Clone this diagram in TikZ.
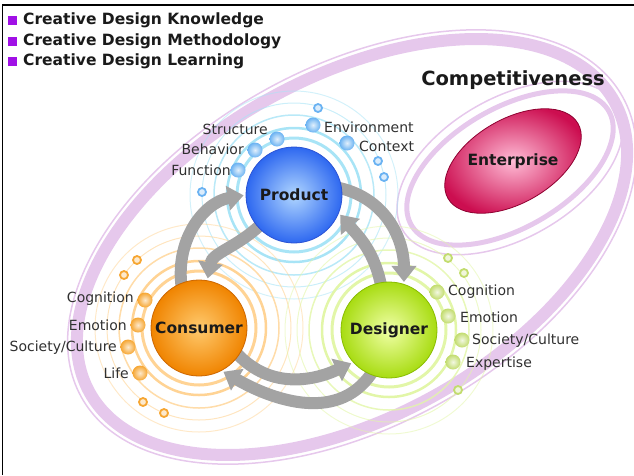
\documentclass[tikz,border=0pt]{standalone}
\usepackage{fontspec}
\setmainfont{DejaVu Sans}
\usetikzlibrary{arrows.meta,shapes.geometric,backgrounds}
\definecolor{CDInk}{HTML}{1A1A1A}
\definecolor{CDText}{HTML}{303030}
\definecolor{CDPurple}{HTML}{A010E6}
\definecolor{CDBand}{HTML}{E6C8EC}
\definecolor{CDGray}{HTML}{A3A3A3}
\definecolor{CDBlue}{HTML}{2E68F0}
\definecolor{CDBlueLt}{HTML}{B0D6FF}
\definecolor{CDBlueDk}{HTML}{2A52D4}
\definecolor{CDBlueDot}{HTML}{6AB2F2}
\definecolor{CDBlueRing}{HTML}{A8E4F6}
\definecolor{CDOrange}{HTML}{F08400}
\definecolor{CDOrangeLt}{HTML}{FFCA6E}
\definecolor{CDOrangeDk}{HTML}{CC6600}
\definecolor{CDOrangeDot}{HTML}{F6A632}
\definecolor{CDOrangeRing}{HTML}{FFD394}
\definecolor{CDGreen}{HTML}{A8DC12}
\definecolor{CDGreenLt}{HTML}{F0FFA6}
\definecolor{CDGreenDk}{HTML}{88BC00}
\definecolor{CDGreenDot}{HTML}{C2DC6E}
\definecolor{CDGreenRing}{HTML}{E2F6A8}
\definecolor{CDRose}{HTML}{CC0E50}
\definecolor{CDRoseLt}{HTML}{FFBCD6}
\definecolor{CDRoseDk}{HTML}{8E0030}
\tikzset{
  flow/.style={-{Triangle[length=16pt,width=24pt]},CDGray,line width=12pt,
               shorten <=-8pt,shorten >=2pt},
  sphere/.style={circle,minimum size=96pt,inner sep=0pt,line width=0.8pt,text=CDInk,
                 font=\fontsize{15.5}{18}\selectfont\bfseries},
  spheretext/.style={inner sep=0pt,text=CDInk,font=\fontsize{15.5}{18}\selectfont\bfseries},
  dot/.style={circle,minimum size=15pt,inner sep=0pt},
  bluedot/.style={dot,inner color=white!80!CDBlueDot,outer color=CDBlueDot},
  orangedot/.style={dot,inner color=white!75!CDOrangeDot,outer color=CDOrangeDot},
  greendot/.style={dot,inner color=white!80!CDGreenDot,outer color=CDGreenDot},
  pip/.style={circle,minimum size=8pt,inner sep=0pt,line width=1.8pt},
  bluepip/.style={pip,draw=CDBlueDot,fill=white!75!CDBlueDot},
  orangepip/.style={pip,draw=CDOrangeDot,fill=white!75!CDOrangeDot},
  greenpip/.style={pip,draw=CDGreenDot,fill=white!75!CDGreenDot},
  tag/.style={inner sep=0pt,text=CDText,font=\fontsize{14}{16}\selectfont},
  legend/.style={inner sep=0pt,text=CDInk,font=\fontsize{15.5}{18}\selectfont\bfseries},
  legbox/.style={rectangle,minimum size=9pt,inner sep=0pt,fill=CDPurple},
  headline/.style={inner sep=0pt,text=CDInk,font=\fontsize{19.5}{23}\selectfont\bfseries},
  band/.style={CDBand,line width=12pt},
  hairband/.style={CDBand,line width=1.5pt},
}

\begin{document}
\begin{tikzpicture}[x=1pt,y=-1pt]
    \useasboundingbox (0,0) rectangle (634,475);
    \draw[line width=1.7pt] (2.5,475) -- (2.5,5) -- (634,5);

    % legend
    \node[legbox] (kbox) at (12.5,20) {};
    \node[legend,anchor=west] (know) at (23,20) {Creative Design Knowledge};
    \node[legbox] (mbox) at (12.5,41) {};
    \node[legend,anchor=west] (method) at (23,41) {Creative Design Methodology};
    \node[legbox] (lbox) at (12.5,61) {};
    \node[legend,anchor=west] (learn) at (23,61) {Creative Design Learning};

    \node[headline] (compet) at (513,80) {Competitiveness};

    % the three actors
    \node[sphere,inner color=CDBlueLt,outer color=CDBlue,draw=CDBlueDk] (product) at (294,195) {Product};
    \node[sphere,inner color=CDOrangeLt,outer color=CDOrange,draw=CDOrangeDk] (consumer) at (199,328) {Consumer};
    \node[sphere,inner color=CDGreenLt,outer color=CDGreen,draw=CDGreenDk] (designer) at (389,330) {Designer};

    % enterprise blob
    \node[ellipse,minimum width=150pt,minimum height=84pt,inner sep=0pt,rotate=30,
          inner color=CDRoseLt,outer color=CDRose,draw=CDRoseDk,line width=0.8pt] (entblob) at (513,161) {};
    \node[spheretext] (enterprise) at (entblob) {Enterprise};

    % product attributes
    \node[bluedot] (pstruct) at (277,139) {};
    \node[tag,anchor=east] (lstruct) at (268,129) {Structure};
    \node[bluedot] (pbehav) at (255,150) {};
    \node[tag,anchor=east] (lbehav) at (244,149) {Behavior};
    \node[bluedot] (pfunc) at (238,170) {};
    \node[tag,anchor=east] (lfunc) at (231,170) {Function};
    \node[bluedot] (penv) at (313,125) {};
    \node[tag,anchor=west] (lenv) at (324,127) {Environment};
    \node[bluedot] (pctx) at (347,143) {};
    \node[tag,anchor=west] (lctx) at (359,146) {Context};
    \node[bluepip] (ppip1) at (318,108) {};
    \node[bluepip] (ppip2) at (378,161) {};
    \node[bluepip] (ppip3) at (384,177) {};
    \node[bluepip] (ppip4) at (202,192) {};

    % consumer attributes
    \node[orangedot] (ccog) at (145,300) {};
    \node[tag,anchor=east] (lccog) at (134,299) {Cognition};
    \node[orangedot] (cemo) at (138,325) {};
    \node[tag,anchor=east] (lcemo) at (127,325) {Emotion};
    \node[orangedot] (csoc) at (128,347) {};
    \node[tag,anchor=east] (lcsoc) at (117,348) {Society/Culture};
    \node[orangedot] (clife) at (140,373) {};
    \node[tag,anchor=east] (lclife) at (129,373) {Life};
    \node[orangepip] (cpip1) at (137,260) {};
    \node[orangepip] (cpip2) at (124,275) {};
    \node[orangepip] (cpip3) at (143,402) {};
    \node[orangepip] (cpip4) at (164,413) {};

    % designer attributes
    \node[greendot] (dcog) at (437,292) {};
    \node[tag,anchor=west] (ldcog) at (448,292) {Cognition};
    \node[greendot] (demo) at (448,316) {};
    \node[tag,anchor=west] (ldemo) at (460,317) {Emotion};
    \node[greendot] (dsoc) at (462,340) {};
    \node[tag,anchor=west] (ldsoc) at (472,341) {Society/Culture};
    \node[greendot] (dexp) at (453,362) {};
    \node[tag,anchor=west] (ldexp) at (466,364) {Expertise};
    \node[greenpip] (dpip1) at (448,258) {};
    \node[greenpip] (dpip2) at (464,273) {};
    \node[greenpip] (dpip3) at (458,390) {};

    \begin{scope}[on background layer]
      % competitiveness rings
      \draw[band,rotate around={29:(352,247)}] (352,247) ellipse[x radius=300,y radius=170];
      \draw[hairband,rotate around={29:(352,247)}] (352,247) ellipse[x radius=309.5,y radius=179.5];
      \draw[CDBand,line width=5pt,rotate around={30:(510,168)}] (510,168) ellipse[x radius=114,y radius=60];
      \draw[hairband,rotate around={30:(510,168)}] (510,168) ellipse[x radius=124,y radius=70];

      % orbits
      \draw[CDBlueRing,line width=3pt] (product) circle[radius=57];
      \draw[CDBlueRing,line width=2.5pt] (product) circle[radius=67];
      \draw[CDBlueRing,line width=1.5pt,opacity=.8] (product) circle[radius=80];
      \draw[CDBlueRing,line width=1pt,opacity=.6] (product) circle[radius=92];
      \draw[CDBlueRing,line width=1pt,opacity=.5] (product) circle[radius=104];
      \draw[CDOrangeRing,line width=3pt] (consumer) circle[radius=57];
      \draw[CDOrangeRing,line width=2.5pt] (consumer) circle[radius=67];
      \draw[CDOrangeRing,line width=1.5pt,opacity=.8] (consumer) circle[radius=80];
      \draw[CDOrangeRing,line width=1pt,opacity=.6] (consumer) circle[radius=92];
      \draw[CDOrangeRing,line width=1pt,opacity=.5] (consumer) circle[radius=104];
      \draw[CDGreenRing,line width=3pt] (designer) circle[radius=57];
      \draw[CDGreenRing,line width=2.5pt] (designer) circle[radius=67];
      \draw[CDGreenRing,line width=1.5pt,opacity=.8] (designer) circle[radius=80];
      \draw[CDGreenRing,line width=1pt,opacity=.6] (designer) circle[radius=92];
      \draw[CDGreenRing,line width=1pt,opacity=.5] (designer) circle[radius=104];

      % exchange arrows
      \draw[flow] (consumer.112) to[out=100,in=190] (product.180);
      \draw[flow] (product.222) to[out=225,in=80] (consumer.80);
      \draw[flow] (product.8) to[out=-10,in=90] (designer.72);
      \draw[flow] (designer.100) to[out=100,in=-50] (product.-22);
      \draw[flow] (consumer.-35) to[out=-50,in=205] (designer.222);
      \draw[flow] (designer.-112) to[out=-120,in=-30] (consumer.-62);
    \end{scope}
\end{tikzpicture}
\end{document}
